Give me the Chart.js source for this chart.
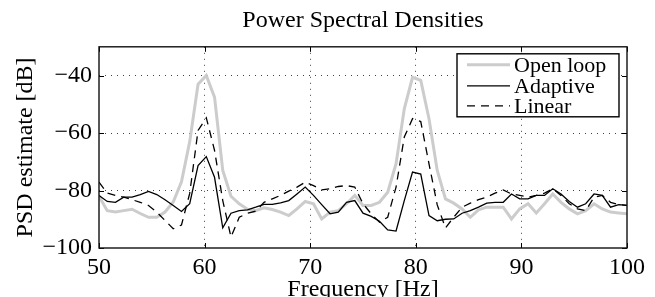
<!DOCTYPE html>
<html><head><meta charset="utf-8">
<style>html,body{margin:0;padding:0;background:#fff;overflow:hidden;}canvas{display:block;}</style>
<script src="https://cdn.jsdelivr.net/npm/chart.js@4/dist/chart.umd.min.js"></script>
</head><body>
<canvas id="c" width="655" height="310"></canvas>
<script>
const frequencies = [50.00,50.78,51.56,52.34,53.13,53.91,54.69,55.47,56.25,57.03,57.81,58.59,59.38,60.16,60.94,61.72,62.50,63.28,64.06,64.84,65.63,66.41,67.19,67.97,68.75,69.53,70.31,71.09,71.88,72.66,73.44,74.22,75.00,75.78,76.56,77.34,78.13,78.91,79.69,80.47,81.25,82.03,82.81,83.59,84.38,85.16,85.94,86.72,87.50,88.28,89.06,89.84,90.63,91.41,92.19,92.97,93.75,94.53,95.31,96.09,96.88,97.66,98.44,99.22,100.00];
const openLoop = [-82,-87,-87.5,-87,-86.5,-88,-89.3,-89.3,-87.5,-84,-77,-63,-43,-40,-47.5,-73,-82,-84.6,-86.5,-87,-86,-86.6,-87.5,-88.7,-86.4,-83.8,-84.6,-89.9,-87.5,-87,-84.6,-81.7,-85.2,-85.2,-84.1,-80.6,-70.7,-51.6,-40.6,-41.7,-55,-73,-82.9,-84.4,-86.4,-89.3,-86.7,-85.8,-85.8,-85.8,-89.9,-86.4,-84.6,-87.8,-84.6,-81.2,-84.1,-86.4,-88.1,-87,-84.6,-86.4,-87.5,-87.8,-88.1];
const adaptive = [-81.7,-83.8,-84.1,-82.3,-82.3,-81.4,-80.3,-81.4,-83.2,-85.2,-87.3,-84.6,-71.3,-68.2,-75.4,-93,-87.9,-87,-86.7,-85.8,-84.8,-84.8,-84.3,-83.5,-81.2,-78.8,-81.7,-84.9,-88.1,-87.5,-84.1,-83.5,-87.9,-89,-90.7,-93.7,-94.1,-83.5,-73.6,-74.3,-88.7,-90.5,-90,-89.9,-87.9,-87,-85.8,-84.4,-84.1,-84.1,-81.2,-82.9,-82.9,-81.7,-81.7,-79.4,-81.2,-83.8,-85.8,-84.6,-81.2,-81.7,-85.8,-84.9,-85.2];
const linear = [-77.1,-80.9,-81.7,-82.3,-83.2,-84.1,-85.2,-87.5,-90.4,-93.3,-92,-81,-59.1,-54.7,-66,-83.5,-96.2,-89.3,-87.9,-87.2,-84.1,-82.9,-81.7,-80.2,-78.8,-77.1,-78.3,-79.8,-79.4,-78.6,-78.3,-78.8,-84.6,-88.1,-91,-89.3,-78.8,-61.4,-55,-56,-70.7,-85,-93,-89.3,-85.8,-84.4,-83.2,-82.3,-80.9,-79.8,-81.2,-81.7,-82.3,-81.7,-80.9,-79.4,-81.7,-84.6,-86.4,-87,-82.3,-81.7,-84.1,-84.9,-85.2];
const seriesNames = ['Open loop','Adaptive','Linear'];
const xTicks = [50,60,70,80,90,100];
const yTicks = [-100,-80,-60,-40];
const titleText = 'Power Spectral Densities';
const xTitle = 'Frequency [Hz]';
const yTitle = 'PSD estimate [dB]';

const FONT = '"Liberation Serif","Times New Roman",serif';
Chart.defaults.font.family = FONT;
Chart.defaults.color = '#000';

const pts = arr => frequencies.map((f, i) => ({x: f, y: arr[i]}));
const fmt = v => (v < 0 ? '\u2212' + Math.abs(v) : String(v));

const frame = {
  id: 'frame',
  afterDraw(chart) {
    const {ctx, chartArea: a, scales} = chart;
    ctx.save();
    ctx.strokeStyle = '#000';
    ctx.lineWidth = 1;
    ctx.setLineDash([]);
    const tl = 5;
    ctx.beginPath();
    xTicks.forEach(v => {
      const x = Math.round(scales.x.getPixelForValue(v)) + 0.5;
      ctx.moveTo(x, a.bottom); ctx.lineTo(x, a.bottom - tl);
      ctx.moveTo(x, a.top); ctx.lineTo(x, a.top + tl);
    });
    yTicks.forEach(v => {
      const y = Math.round(scales.y.getPixelForValue(v)) + 0.5;
      ctx.moveTo(a.left, y); ctx.lineTo(a.left + tl, y);
      ctx.moveTo(a.right, y); ctx.lineTo(a.right - tl, y);
    });
    ctx.stroke();
    ctx.lineWidth = 1.4;
    ctx.strokeStyle = '#111';
    ctx.strokeRect(a.left, a.top, a.right - a.left, a.bottom - a.top);
    ctx.restore();
  }
};

const boxLegend = {
  id: 'boxLegend',
  afterDatasetsDraw(chart) {
    const {ctx, chartArea: a} = chart;
    const w = 162, h = 63;
    const x0 = a.right - 8 - w, y0 = a.top + 7;
    ctx.save();
    ctx.fillStyle = '#fff';
    ctx.fillRect(x0, y0, w, h);
    ctx.lineWidth = 1.4;
    ctx.strokeStyle = '#000';
    ctx.strokeRect(x0, y0, w, h);
    const rows = [11, 32, 52];
    chart.data.datasets.forEach((ds, i) => {
      const y = y0 + rows[i];
      ctx.beginPath();
      ctx.lineWidth = ds.borderWidth;
      ctx.strokeStyle = ds.borderColor;
      ctx.setLineDash(ds.borderDash || []);
      ctx.moveTo(x0 + 10, y); ctx.lineTo(x0 + 53, y);
      ctx.stroke();
      ctx.setLineDash([]);
      ctx.fillStyle = '#000';
      ctx.font = '22px ' + FONT;
      ctx.textBaseline = 'middle';
      ctx.textAlign = 'left';
      ctx.fillText(ds.label, x0 + 57, y + 1);
    });
    ctx.restore();
  }
};

new Chart(document.getElementById('c'), {
  type: 'line',
  data: {
    datasets: [
      {label: seriesNames[0], data: pts(openLoop), borderColor: '#cccccc', borderWidth: 3, order: 3},
      {label: seriesNames[1], data: pts(adaptive), borderColor: '#000', borderWidth: 1.3, order: 2},
      {label: seriesNames[2], data: pts(linear), borderColor: '#000', borderWidth: 1.3, borderDash: [8, 6], order: 1}
    ]
  },
  options: {
    responsive: false,
    animation: false,
    devicePixelRatio: 1,
    elements: {point: {radius: 0}, line: {tension: 0, fill: false}},
    layout: {padding: {left: 0, right: 28, top: 0, bottom: 0}},
    plugins: {
      legend: {display: false},
      tooltip: {enabled: false},
      title: {display: true, fullSize: false, text: titleText, font: {size: 24, weight: 'normal'}, color: '#000', padding: {top: 6, bottom: 12}}
    },
    scales: {
      x: {
        type: 'linear', min: 50, max: 100,
        afterBuildTicks: s => { s.ticks = xTicks.map(v => ({value: v})); },
        afterFit: s => { s.height = 62; },
        ticks: {font: {size: 24}, padding: 5, maxRotation: 0, callback: fmt, color: '#000'},
        grid: {drawTicks: false, color: c => (c.tick && (c.tick.value === 50 || c.tick.value === 100)) ? 'rgba(0,0,0,0)' : 'rgba(0,0,0,0.75)', lineWidth: 1},
        border: {display: false, dash: [1, 5]},
        title: {display: true, text: xTitle, font: {size: 24}, color: '#000', padding: {top: 0, bottom: 6}}
      },
      y: {
        type: 'linear', min: -100, max: -30,
        afterBuildTicks: s => { s.ticks = yTicks.map(v => ({value: v})); },
        afterFit: s => { s.width = 99; },
        ticks: {font: {size: 24}, padding: 7, callback: fmt, color: '#000'},
        grid: {drawTicks: false, color: c => (c.tick && c.tick.value === -100) ? 'rgba(0,0,0,0)' : 'rgba(0,0,0,0.75)', lineWidth: 1},
        border: {display: false, dash: [1, 5]},
        title: {display: true, text: yTitle, font: {size: 24}, color: '#000', padding: {top: 11, bottom: 0}}
      }
    }
  },
  plugins: [frame, boxLegend]
});
</script>
</body></html>
